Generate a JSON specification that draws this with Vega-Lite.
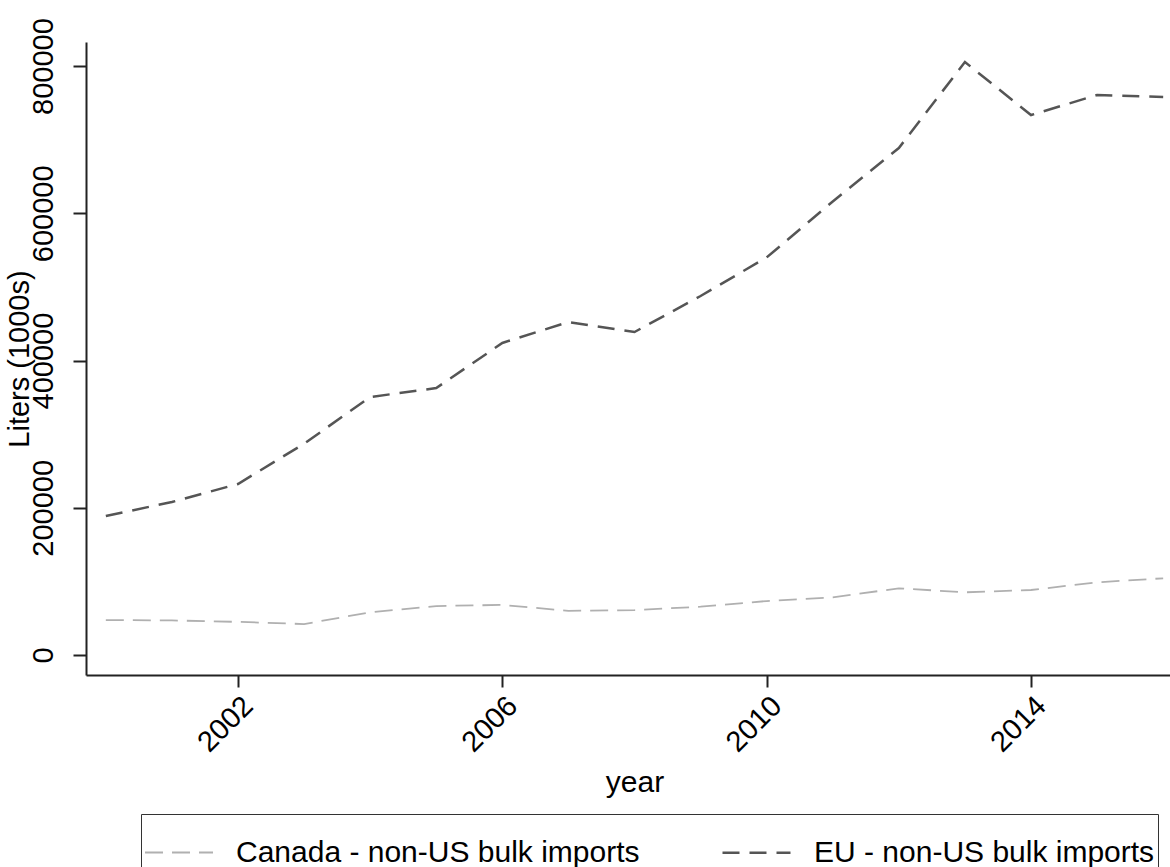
{
  "$schema": "https://vega.github.io/schema/vega-lite/v6.json",
  "autosize": {"type": "none"},
  "padding": {"left": 86, "top": 42, "right": 0, "bottom": 200},
  "width": 1097,
  "height": 633,
  "background": "white",
  "config": {"view": {"stroke": null}, "font": "Liberation Sans"},
  "data": {"values": [
    {"year": 2000, "series": "Canada - non-US bulk imports", "liters": 47500},
    {"year": 2001, "series": "Canada - non-US bulk imports", "liters": 47000},
    {"year": 2002, "series": "Canada - non-US bulk imports", "liters": 45000},
    {"year": 2003, "series": "Canada - non-US bulk imports", "liters": 42000},
    {"year": 2004, "series": "Canada - non-US bulk imports", "liters": 58000},
    {"year": 2005, "series": "Canada - non-US bulk imports", "liters": 66500},
    {"year": 2006, "series": "Canada - non-US bulk imports", "liters": 68000},
    {"year": 2007, "series": "Canada - non-US bulk imports", "liters": 60000},
    {"year": 2008, "series": "Canada - non-US bulk imports", "liters": 61000},
    {"year": 2009, "series": "Canada - non-US bulk imports", "liters": 65600},
    {"year": 2010, "series": "Canada - non-US bulk imports", "liters": 73300},
    {"year": 2011, "series": "Canada - non-US bulk imports", "liters": 78300},
    {"year": 2012, "series": "Canada - non-US bulk imports", "liters": 90600},
    {"year": 2013, "series": "Canada - non-US bulk imports", "liters": 85100},
    {"year": 2014, "series": "Canada - non-US bulk imports", "liters": 88300},
    {"year": 2015, "series": "Canada - non-US bulk imports", "liters": 98700},
    {"year": 2016, "series": "Canada - non-US bulk imports", "liters": 104200},
    {"year": 2000, "series": "EU - non-US bulk imports", "liters": 188800},
    {"year": 2001, "series": "EU - non-US bulk imports", "liters": 207800},
    {"year": 2002, "series": "EU - non-US bulk imports", "liters": 232300},
    {"year": 2003, "series": "EU - non-US bulk imports", "liters": 287000},
    {"year": 2004, "series": "EU - non-US bulk imports", "liters": 350400},
    {"year": 2005, "series": "EU - non-US bulk imports", "liters": 362600},
    {"year": 2006, "series": "EU - non-US bulk imports", "liters": 423800},
    {"year": 2007, "series": "EU - non-US bulk imports", "liters": 452300},
    {"year": 2008, "series": "EU - non-US bulk imports", "liters": 438700},
    {"year": 2009, "series": "EU - non-US bulk imports", "liters": 487600},
    {"year": 2010, "series": "EU - non-US bulk imports", "liters": 540000},
    {"year": 2011, "series": "EU - non-US bulk imports", "liters": 616000},
    {"year": 2012, "series": "EU - non-US bulk imports", "liters": 688600},
    {"year": 2013, "series": "EU - non-US bulk imports", "liters": 805400},
    {"year": 2014, "series": "EU - non-US bulk imports", "liters": 733400},
    {"year": 2015, "series": "EU - non-US bulk imports", "liters": 760600},
    {"year": 2016, "series": "EU - non-US bulk imports", "liters": 757900}
  ]},
  "mark": {"type": "line"},
  "encoding": {
    "x": {
      "field": "year", "type": "quantitative",
      "scale": {"domain": [1999.7, 2016.3], "nice": false, "zero": false},
      "axis": {
        "title": "year", "values": [2002, 2006, 2010, 2014], "format": "d",
        "grid": false, "labelAngle": -45, "labelFontSize": 29, "labelColor": "#000",
        "labelPadding": 4, "tickSize": 12, "tickWidth": 2, "tickColor": "#222",
        "domainColor": "#222", "domainWidth": 2,
        "titleFontSize": 30, "titleFontWeight": "normal", "titleColor": "#000", "titlePadding": 10
      }
    },
    "y": {
      "field": "liters", "type": "quantitative",
      "scale": {"domain": [-27165, 832600], "nice": false, "zero": false},
      "axis": {
        "title": "Liters (1000s)", "values": [0, 200000, 400000, 600000, 800000], "format": "d",
        "grid": false, "labelAngle": -90, "labelAlign": "center", "labelBaseline": "bottom",
        "labelFontSize": 29, "labelColor": "#000", "labelPadding": 15,
        "tickSize": 13, "tickWidth": 2, "tickColor": "#222",
        "domainColor": "#222", "domainWidth": 2,
        "titleFontSize": 29, "titleFontWeight": "normal", "titleColor": "#000", "titlePadding": -5
      }
    },
    "color": {
      "field": "series", "type": "nominal",
      "scale": {"domain": ["Canada - non-US bulk imports", "EU - non-US bulk imports"], "range": ["#b0b0b0", "#555555"]},
      "legend": {"title": null, "orient": "none", "legendX": 55, "legendY": 772, "direction": "horizontal",
        "symbolType": "stroke", "symbolSize": 4624, "labelFontSize": 30, "labelColor": "#000", "labelLimit": 0,
        "labelOffset": 22, "columnPadding": 77, "padding": 3, "strokeColor": "#333"}
    },
    "strokeDash": {
      "field": "series", "type": "nominal",
      "scale": {"domain": ["Canada - non-US bulk imports", "EU - non-US bulk imports"], "range": [[18, 9], [17, 10]]},
      "legend": {"title": null, "orient": "none", "legendX": 55, "legendY": 772, "direction": "horizontal",
        "symbolType": "stroke", "symbolSize": 4624, "labelFontSize": 30, "labelColor": "#000", "labelLimit": 0,
        "labelOffset": 22, "columnPadding": 77, "padding": 3, "strokeColor": "#333"}
    },
    "strokeWidth": {
      "field": "series", "type": "nominal",
      "scale": {"domain": ["Canada - non-US bulk imports", "EU - non-US bulk imports"], "range": [1.8, 2.5]},
      "legend": {"title": null, "orient": "none", "legendX": 55, "legendY": 772, "direction": "horizontal",
        "symbolType": "stroke", "symbolSize": 4624, "labelFontSize": 30, "labelColor": "#000", "labelLimit": 0,
        "labelOffset": 22, "columnPadding": 77, "padding": 3, "strokeColor": "#333"}
    }
  }
}
